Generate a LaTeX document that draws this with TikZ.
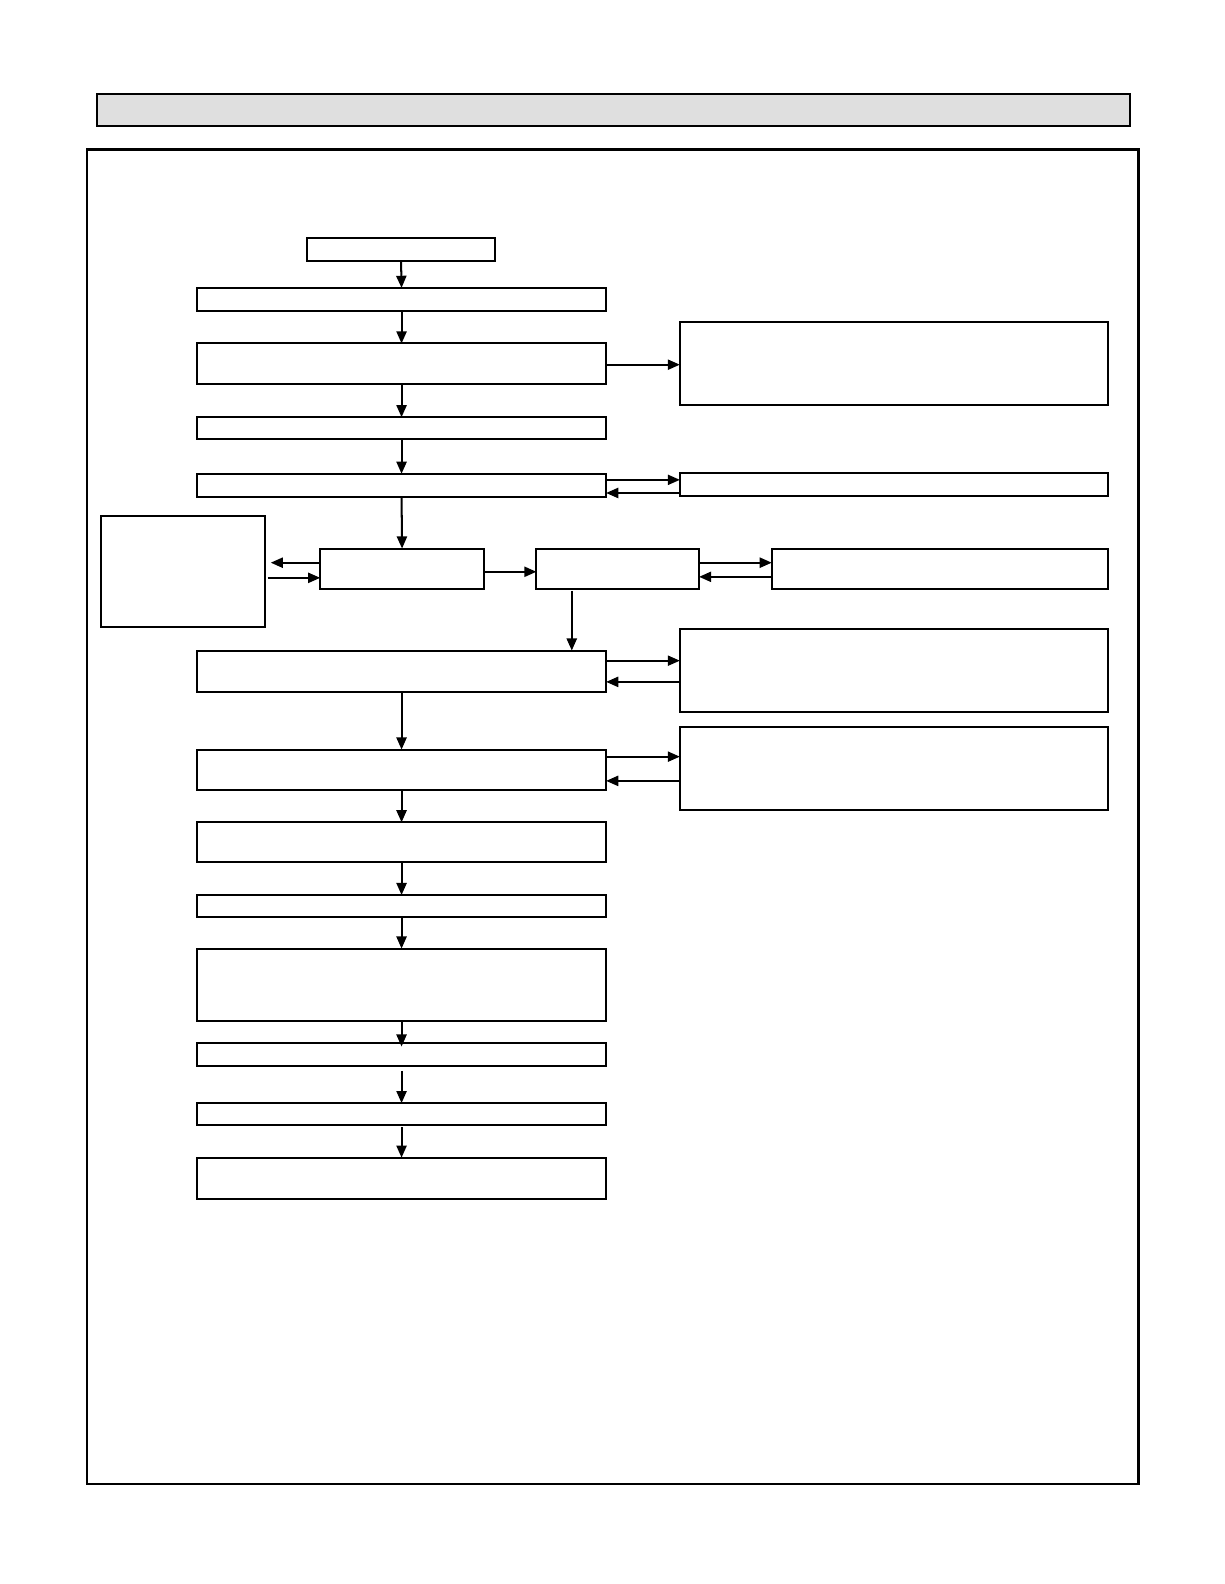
\documentclass[tikz,border=0pt]{standalone}
\usetikzlibrary{fit,arrows.meta}
\definecolor{hdrgray}{gray}{0.875}
\begin{document}
\begin{tikzpicture}[x=0.5pt,y=-0.5pt,
  box/.style={draw, line width=1pt, inner sep=0pt, outer sep=0pt},
  arr/.style={line width=1pt, -{Triangle[length=6pt,width=5pt]}}]
\useasboundingbox (0,0) rectangle (1212,1568);
% header and frame
\node[box, fill=hdrgray, fit={(96,93)(1119,125)}] (hdr) {};
\node[box, line width=1.3pt, fit={(86,148)(1127,1469)}] (frame) {};
% main column
\node[box, fit={(304,236)(490,258)}] (A) {};
\node[box, fit={(195,285)(600,308)}] (B) {};
\node[box, fit={(195,340)(600,380)}] (C) {};
\node[box, fit={(195,413)(600,435)}] (D) {};
\node[box, fit={(195,469)(600,492)}] (E) {};
\node[box, fit={(317,543)(479,583)}] (F) {};
\node[box, fit={(531,543)(692,583)}] (G) {};
\node[box, fit={(195,644)(600,685)}] (H) {};
\node[box, fit={(195,742)(600,782)}] (I) {};
\node[box, fit={(195,814)(600,853)}] (J) {};
\node[box, fit={(195,886)(600,908)}] (K) {};
\node[box, fit={(195,939)(600,1011)}] (M) {};
\node[box, fit={(195,1032)(600,1055)}] (N) {};
\node[box, fit={(195,1092)(600,1114)}] (O) {};
\node[box, fit={(195,1146)(600,1187)}] (P) {};
% side boxes
\node[box, fit={(673,319)(1097,401)}] (R1) {};
\node[box, fit={(673,468)(1097,491)}] (R2) {};
\node[box, fit={(100,511)(262,621)}] (L) {};
\node[box, fit={(764,543)(1097,583)}] (R3) {};
\node[box, fit={(673,623)(1097,705)}] (R4) {};
\node[box, fit={(673,720)(1097,802)}] (R5) {};
% helper coordinates
\coordinate (y361) at (0,361);
\coordinate (y475) at (0,475);
\coordinate (y488) at (0,488);
\coordinate (y557) at (0,557);
\coordinate (y572) at (0,572);
\coordinate (y566) at (0,566);
\coordinate (y571) at (0,571);
\coordinate (y654) at (0,654);
\coordinate (y675) at (0,675);
\coordinate (y749) at (0,749);
\coordinate (y773) at (0,773);
\coordinate (x566) at (566,0);
% vertical flow
\draw[arr] (A.south) -- (B.north);
\draw[arr] (B.south) -- (C.north);
\draw[arr] (C.south) -- (D.north);
\draw[arr] (D.south) -- (E.north);
\draw[arr] (E.south) -- (F.north);
\draw[arr, shorten <=1pt] (G.south -| x566) -- (H.north -| x566);
\draw[arr] (H.south) -- (I.north);
\draw[arr] (I.south) -- (J.north);
\draw[arr] (J.south) -- (K.north);
\draw[arr] (K.south) -- (M.north);
\draw[arr] (M.south) -- ([yshift=-2pt]N.north);
\draw[arr, shorten <=2.5pt] (N.south) -- (O.north);
\draw[arr, shorten <=1pt] (O.south) -- (P.north);
% horizontal links
\draw[arr] (C.east |- y361) -- (R1.west |- y361);
\draw[arr] (E.east |- y475) -- (R2.west |- y475);
\draw[arr] (R2.west |- y488) -- (E.east |- y488);
\draw[arr, shorten >=3pt] (F.west |- y557) -- (L.east |- y557);
\draw[arr, shorten <=1.5pt] (L.east |- y572) -- (F.west |- y572);
\draw[arr] (F.east |- y566) -- (G.west |- y566);
\draw[arr] (G.east |- y557) -- (R3.west |- y557);
\draw[arr] (R3.west |- y571) -- (G.east |- y571);
\draw[arr] (H.east |- y654) -- (R4.west |- y654);
\draw[arr] (R4.west |- y675) -- (H.east |- y675);
\draw[arr] (I.east |- y749) -- (R5.west |- y749);
\draw[arr] (R5.west |- y773) -- (I.east |- y773);
\end{tikzpicture}
\end{document}
